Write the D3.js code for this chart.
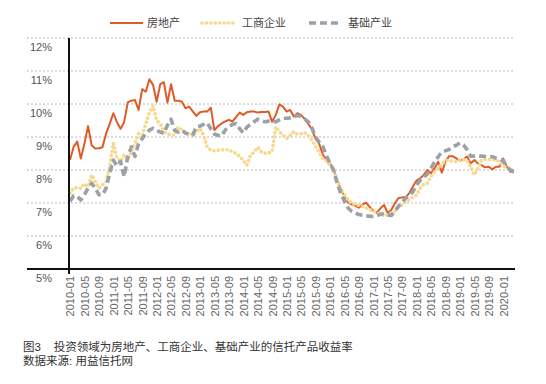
<!DOCTYPE html>
<html>
<head>
<meta charset="utf-8">
<script src="https://cdn.jsdelivr.net/npm/d3@7"></script>
<style>
  body { margin: 0; background: #fff; }
  svg { display: block; font-family: "Liberation Sans", Arial, "Noto Sans CJK SC", sans-serif; }
</style>
</head>
<body>
<svg id="chart"></svg>
<script>
// Chart size
const width = 546;
const height = 384;

// Monthly categories 2010-01 .. 2020-04
const months = d3.timeMonths(new Date(2010, 0, 1), new Date(2020, 4, 1)).map(d3.timeFormat("%Y-%m"));

// Tick labels shown on the x axis (every 4 months)
const tickLabels = [
  "2010-01", "2010-05", "2010-09", "2011-01", "2011-05", "2011-09",
  "2012-01", "2012-05", "2012-09", "2013-01", "2013-05", "2013-09",
  "2014-01", "2014-05", "2014-09", "2015-01", "2015-05", "2015-09",
  "2016-01", "2016-05", "2016-09", "2017-01", "2017-05", "2017-09",
  "2018-01", "2018-05", "2018-09", "2019-01", "2019-05", "2019-09",
  "2020-01"
];

const yTicks = [5, 6, 7, 8, 9, 10, 11, 12];

// 房地产 (%)
const realEstate = [
  8.30, 8.70, 8.86, 8.35, 8.80, 9.33, 8.75, 8.65, 8.66, 8.69,
  9.10, 9.40, 9.72, 9.45, 9.25, 9.45, 10.05, 10.10, 10.12, 9.82,
  10.45, 10.37, 10.75, 10.58, 10.07, 10.60, 10.66, 10.04, 10.60, 10.10,
  10.10, 10.07, 9.87, 9.92, 9.78, 9.64, 9.75, 9.77, 9.77, 9.89,
  9.21, 9.33, 9.41, 9.47, 9.52, 9.47, 9.60, 9.74, 9.67, 9.75,
  9.77, 9.77, 9.74, 9.76, 9.76, 9.77, 9.46, 9.67, 9.99, 9.92,
  9.77, 9.82, 9.62, 9.72, 9.67, 9.55, 9.40, 9.23, 8.95, 8.80,
  8.48, 8.30, 8.20, 8.05, 7.65, 7.45, 7.20, 7.02, 6.96, 6.92,
  6.86, 6.95, 7.01, 6.88, 6.77, 6.70, 6.84, 6.94, 6.70, 6.79,
  6.99, 7.15, 7.17, 7.18, 7.30, 7.50, 7.68, 7.75, 7.85, 8.00,
  7.90, 8.05, 8.25, 7.92, 8.25, 8.42, 8.42, 8.35, 8.28, 8.33,
  8.41, 8.20, 8.30, 8.20, 8.15, 8.08, 8.10, 8.02, 8.10, 8.10,
  8.35, 8.10, 7.95, 7.93
];

// 工商企业 (%)
const industry = [
  7.29, 7.45, 7.47, 7.44, 7.58, 7.49, 7.85, 7.65, 7.45, 7.55,
  7.65, 8.10, 8.81, 8.35, 8.26, 8.45, 8.30, 8.56, 8.81, 9.11,
  9.06, 9.40, 9.75, 9.95, 9.50, 9.40, 9.16, 9.10, 9.06, 9.06,
  9.30, 9.21, 9.09, 9.12, 9.05, 9.15, 9.26, 9.05, 8.70, 8.60,
  8.58, 8.60, 8.61, 8.61, 8.62, 8.55, 8.50, 8.41, 8.30, 8.15,
  8.45, 8.55, 8.69, 8.55, 8.51, 8.52, 8.56, 9.30, 9.16, 9.06,
  8.95, 9.05, 9.16, 9.08, 9.10, 9.13, 9.05, 8.90, 8.72, 8.55,
  8.35, 8.28, 8.15, 8.00, 7.70, 7.45, 7.25, 7.10, 6.99, 6.96,
  6.93, 6.90, 6.85, 6.80, 6.75, 6.70, 6.66, 6.62, 6.65, 6.69,
  6.75, 6.88, 6.95, 7.04, 7.10, 7.18, 7.24, 7.45, 7.57, 7.60,
  7.80, 7.95, 8.05, 8.18, 8.28, 8.30, 8.25, 8.25, 8.30, 8.32,
  8.28, 8.10, 7.85, 8.05, 8.30, 8.32, 8.32, 8.31, 8.30, 8.25,
  8.15, 8.05, 8.00, 7.98
];

// 基础产业 (%)
const infrastructure = [
  7.05, 7.22, 7.20, 7.09, 7.25, 7.45, 7.60, 7.45, 7.25, 7.25,
  7.45, 7.90, 8.30, 8.12, 8.26, 7.80, 8.40, 8.70, 8.41, 8.80,
  8.95, 9.10, 9.21, 9.26, 9.20, 9.15, 9.11, 9.36, 9.54, 9.20,
  9.15, 9.21, 9.12, 9.08, 9.06, 9.31, 9.33, 9.38, 9.43, 9.25,
  9.09, 9.05, 9.03, 9.21, 9.32, 9.38, 9.41, 9.25, 9.13, 9.30,
  9.38, 9.46, 9.54, 9.50, 9.46, 9.48, 9.47, 9.46, 9.52, 9.57,
  9.57, 9.58, 9.60, 9.66, 9.62, 9.55, 9.46, 9.28, 9.00, 8.85,
  8.72, 8.45, 8.20, 8.00, 7.60, 7.30, 7.05, 6.85, 6.75, 6.70,
  6.65, 6.63, 6.61, 6.60, 6.59, 6.61, 6.66, 6.68, 6.64, 6.62,
  6.75, 6.90, 7.02, 7.15, 7.22, 7.34, 7.55, 7.68, 7.78, 7.88,
  8.05, 8.25, 8.40, 8.55, 8.58, 8.62, 8.70, 8.75, 8.82, 8.76,
  8.62, 8.42, 8.42, 8.43, 8.42, 8.41, 8.40, 8.40, 8.36, 8.33,
  8.28, 8.10, 8.00, 7.95
];

const seriesNames = ["房地产", "工商企业", "基础产业"];

// Line styles per series
const styles = {
  "房地产": { stroke: "#E05A28", width: 2, dash: null, cap: "butt" },
  "工商企业": { stroke: "#F6D98F", width: 3.6, dash: "0.1 4.3", cap: "round" },
  "基础产业": { stroke: "#9AA1A8", width: 3.6, dash: "7 4", cap: "butt" }
};

const series = [
  { name: "房地产", values: realEstate },
  { name: "工商企业", values: industry },
  { name: "基础产业", values: infrastructure }
];

const svg = d3.select("#chart")
  .attr("width", width)
  .attr("height", height);

// Scales
const x = d3.scalePoint().domain(months).range([70, 514]);
const y = d3.scaleLinear().domain([5, 12]).range([269, 38]);

// Horizontal gridlines (dotted)
svg.append("g")
  .selectAll("line")
  .data(yTicks.filter(d => d > 5))
  .enter().append("line")
  .attr("x1", 27)
  .attr("x2", 515)
  .attr("y1", d => y(d))
  .attr("y2", d => y(d))
  .attr("stroke", "#b9b9b9")
  .attr("stroke-width", 1)
  .attr("stroke-dasharray", "2 2");

// Y tick labels (sit a little below their gridline)
svg.append("g")
  .selectAll("text")
  .data(yTicks)
  .enter().append("text")
  .attr("x", 52)
  .attr("y", d => y(d) + 9)
  .attr("dy", "0.35em")
  .attr("text-anchor", "end")
  .attr("font-size", 11)
  .attr("fill", "#555")
  .text(d => d + "%");

// X axis with rotated labels
const xAxis = d3.axisBottom(x).tickValues(tickLabels).tickSize(0).tickPadding(0);
const gx = svg.append("g")
  .attr("transform", `translate(0,${y(5)})`)
  .call(xAxis);
gx.select(".domain").remove();
gx.selectAll("text")
  .attr("font-family", null)
  .attr("font-size", 11)
  .attr("fill", "#666")
  .attr("text-anchor", "end")
  .attr("transform", "translate(0,7) rotate(-90)")
  .attr("x", 0)
  .attr("y", 0)
  .attr("dy", "0.35em");

// Lines
const line = d3.line()
  .x((d, i) => x(months[i]))
  .y(d => y(d));

svg.append("g")
  .selectAll("path")
  .data(series)
  .enter().append("path")
  .attr("d", d => line(d.values))
  .attr("fill", "none")
  .attr("stroke", d => styles[d.name].stroke)
  .attr("stroke-width", d => styles[d.name].width)
  .attr("stroke-dasharray", d => styles[d.name].dash)
  .attr("stroke-linecap", d => styles[d.name].cap)
  .attr("stroke-linejoin", "round");

// Axis lines
svg.append("line")
  .attr("x1", 27).attr("x2", 515)
  .attr("y1", y(5)).attr("y2", y(5))
  .attr("stroke", "#111").attr("stroke-width", 2);
svg.append("line")
  .attr("x1", 69).attr("x2", 69)
  .attr("y1", y(12)).attr("y2", y(5) + 5)
  .attr("stroke", "#111").attr("stroke-width", 2);

// Legend
const legendX = [110, 202, 308];
const legend = svg.append("g")
  .selectAll("g")
  .data(seriesNames)
  .enter().append("g")
  .attr("transform", (d, i) => `translate(${legendX[i]},23)`);

legend.append("line")
  .attr("x1", d => d === "基础产业" ? 1 : 0)
  .attr("x2", 33)
  .attr("y1", 0).attr("y2", 0)
  .attr("stroke", d => styles[d].stroke)
  .attr("stroke-width", d => styles[d].width)
  .attr("stroke-dasharray", d => styles[d].dash)
  .attr("stroke-linecap", d => styles[d].cap);

legend.append("text")
  .attr("x", d => d === "房地产" ? 37 : 40)
  .attr("y", 0)
  .attr("dy", "0.35em")
  .attr("font-size", 11)
  .attr("fill", "#444")
  .text(d => d);

// Caption
svg.append("text")
  .attr("x", 23).attr("y", 347)
  .attr("dy", "0.35em")
  .attr("font-size", 11.5)
  .attr("fill", "#333")
  .attr("xml:space", "preserve")
  .text("图3    投资领域为房地产、工商企业、基础产业的信托产品收益率");
svg.append("text")
  .attr("x", 23).attr("y", 361)
  .attr("dy", "0.35em")
  .attr("font-size", 11.5)
  .attr("fill", "#333")
  .text("数据来源: 用益信托网");
</script>
</body>
</html>
